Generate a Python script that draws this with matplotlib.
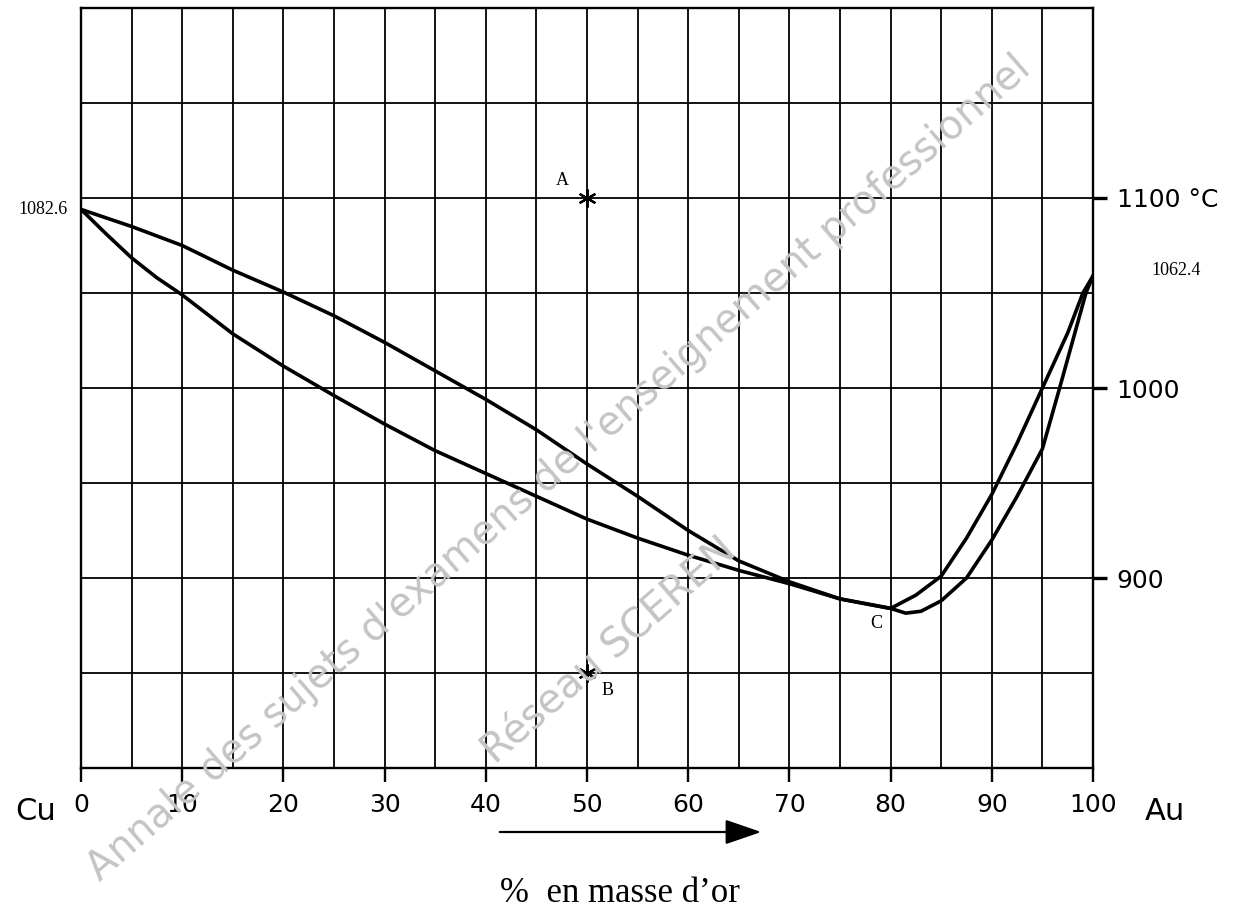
import matplotlib.pyplot as plt
from matplotlib.patches import FancyArrowPatch
import numpy as np

# composition (% mass of gold) and temperatures
x_upper = [0, 5, 10, 15, 20, 25, 30, 35, 40, 45, 50, 55, 60, 65, 70, 75, 80,
           82.5, 85, 87.5, 90, 92.5, 95, 97.5, 99, 100]
t_upper = [1094, 1085, 1075, 1062, 1050.5, 1038, 1024, 1009, 994, 978, 960, 943, 925, 909,
           898, 889, 884, 891, 901, 921, 944, 971, 1000, 1029, 1050, 1059]

x_lower = [0, 2.5, 5, 7.5, 10, 15, 20, 25, 30, 35, 40, 45, 50, 55, 60, 65, 70, 75, 78, 80,
           81.5, 83, 85, 87.5, 90, 92.5, 95, 96.7, 98, 99.3, 100]
t_lower = [1094, 1081, 1068.5, 1058, 1049, 1028.5, 1011.5, 996, 981, 967, 955, 943, 931, 921, 912, 904,
           897, 889, 886, 884, 881.5, 882.5, 888, 900, 920, 943, 968, 1000, 1025, 1050, 1059]

points = {'A': (50, 1100), 'B': (50, 850)}
x_ticks = [0, 10, 20, 30, 40, 50, 60, 70, 80, 90, 100]
t_ticks = [900, 1000, 1100]
t_tick_labels = ['900', '1000', '1100 °C']

fig = plt.figure(figsize=(12.37, 9.19), dpi=100)
ax = fig.add_axes([0.0655, 0.1643, 0.8181, 0.8270])
ax.set_xlim(0, 100)
ax.set_ylim(800, 1200)

# grid every 5 % and every 50 °C
for gx in np.arange(5, 100, 5):
    ax.axvline(gx, color='k', lw=1.3, zorder=1)
for gy in np.arange(850, 1200, 50):
    ax.axhline(gy, color='k', lw=1.3, zorder=1)

ax.plot(x_upper, t_upper, color='k', lw=2.6, zorder=3, solid_joinstyle='round')
ax.plot(x_lower, t_lower, color='k', lw=2.6, zorder=3, solid_joinstyle='round')

for name, (px, pt) in points.items():
    ax.plot(px, pt, marker=(6, 2, 0), ms=13, mew=1.6, color='k', zorder=4)
ax.text(47.6, 1109, 'A', family='Liberation Serif', fontsize=13, ha='center', va='center')
ax.text(52.0, 841, 'B', family='Liberation Serif', fontsize=13, ha='center', va='center')
ax.text(78.6, 876, 'C', family='Liberation Serif', fontsize=13, ha='center', va='center')

ax.text(-1.3, 1094, '1082.6', family='Liberation Serif', fontsize=13, ha='right', va='center')
ax.text(105.8, 1062, '1062.4', family='Liberation Serif', fontsize=13, ha='left', va='center',
        clip_on=False)

for s in ax.spines.values():
    s.set_linewidth(1.7)

ax.set_xticks(x_ticks)
ax.set_xticklabels([str(v) for v in x_ticks])
ax.tick_params(axis='x', length=10, width=1.7, pad=8, labelsize=18)
ax.yaxis.tick_right()
ax.set_yticks(t_ticks)
ax.set_yticklabels(t_tick_labels)
ax.tick_params(axis='y', length=10, width=2.4, pad=7, labelsize=18)

fig.text(36 / 1237, 1 - 812 / 919, 'Cu', fontsize=22, ha='center', va='center')
fig.text(1165 / 1237, 1 - 812 / 919, 'Au', fontsize=22, ha='center', va='center')

fig.patches.append(FancyArrowPatch(
    (497 / 1237, 1 - 832 / 919), (764 / 1237, 1 - 832 / 919), transform=fig.transFigure,
    arrowstyle='-|>,head_length=1.6,head_width=0.55', mutation_scale=14, lw=1.6, color='k'))
fig.text(620 / 1237, 1 - 893 / 919, '%  en masse d\u2019or', family='Liberation Serif', fontsize=25,
         ha='center', va='center')

# watermark
fig.text(1012 / 1237, 1 - 48 / 919, "Annale des sujets d'examens de l'enseignement professionnel",
         fontsize=28.5, color='#c4c4c4', rotation=41, rotation_mode='anchor', ha='right', va='top',
         zorder=0)
fig.text(718 / 1237, 1 - 530 / 919, 'Réseau SCEREN', fontsize=29, color='#c4c4c4', rotation=41,
         rotation_mode='anchor', ha='right', va='top', zorder=0)

fig.savefig('out.png', dpi=100)
